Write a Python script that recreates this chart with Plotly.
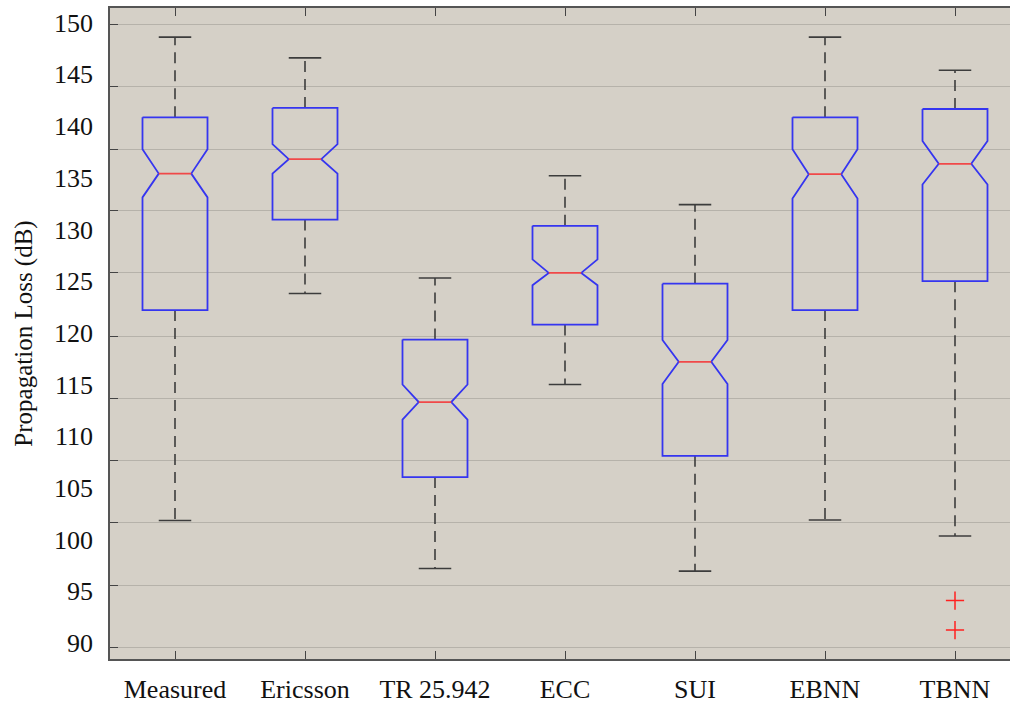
import plotly.graph_objects as go

categories = ["Measured", "Ericsson", "TR 25.942", "ECC", "SUI", "EBNN", "TBNN"]
upper_whisker = [148.6, 146.6, 125.3, 135.2, 132.4, 148.6, 145.4]
q3 = [140.85, 141.75, 119.35, 130.35, 124.75, 140.85, 141.65]
notch_hi = [137.75, 138.25, 115.0, 127.1, 119.3, 137.75, 138.55]
median = [135.4, 136.8, 113.3, 125.8, 117.2, 135.35, 136.35]
notch_lo = [133.1, 135.4, 111.6, 124.6, 115.05, 133.0, 134.35]
q1 = [122.2, 130.95, 106.05, 120.8, 108.1, 122.2, 125.0]
lower_whisker = [101.85, 123.8, 97.2, 115.0, 96.95, 101.9, 100.35]
outlier_cat = ["TBNN", "TBNN"]
outlier_val = [94.1, 91.25]

ytick_labels = [90, 95, 100, 105, 110, 115, 120, 125, 130, 135, 140, 145, 150]
grid_vals = [89.58, 95.54, 101.67, 107.67, 113.67, 119.67, 125.79, 131.79, 137.75, 143.85, 149.81]

BOX_HALF = 0.25
NOTCH_HALF = 0.125
CAP_HALF = 0.125

pos = {c: i + 1 for i, c in enumerate(categories)}

bx, by, mx, my, wx, wy, cx, cy = [], [], [], [], [], [], [], []
for i, c in enumerate(categories):
    x = pos[c]
    bx += [x - BOX_HALF, x + BOX_HALF, x + BOX_HALF, x + NOTCH_HALF, x + BOX_HALF, x + BOX_HALF,
           x - BOX_HALF, x - BOX_HALF, x - NOTCH_HALF, x - BOX_HALF, x - BOX_HALF, None]
    by += [q3[i], q3[i], notch_hi[i], median[i], notch_lo[i], q1[i],
           q1[i], notch_lo[i], median[i], notch_hi[i], q3[i], None]
    mx += [x - NOTCH_HALF, x + NOTCH_HALF, None]
    my += [median[i], median[i], None]
    wx += [x, x, None, x, x, None]
    wy += [q3[i], upper_whisker[i], None, q1[i], lower_whisker[i], None]
    cx += [x - CAP_HALF, x + CAP_HALF, None, x - CAP_HALF, x + CAP_HALF, None]
    cy += [upper_whisker[i], upper_whisker[i], None, lower_whisker[i], lower_whisker[i], None]

fig = go.Figure()
fig.add_trace(go.Scatter(x=wx, y=wy, mode="lines", yaxis="y2",
                         line=dict(color="#3c3c3c", width=1.6, dash="11px,7px"),
                         hoverinfo="skip", showlegend=False))
fig.add_trace(go.Scatter(x=cx, y=cy, mode="lines", yaxis="y2",
                         line=dict(color="#3c3c3c", width=1.6),
                         hoverinfo="skip", showlegend=False))
fig.add_trace(go.Scatter(x=bx, y=by, mode="lines", yaxis="y2",
                         line=dict(color="#3535f0", width=1.8),
                         hoverinfo="skip", showlegend=False))
fig.add_trace(go.Scatter(x=mx, y=my, mode="lines", yaxis="y2",
                         line=dict(color="#f04848", width=1.8),
                         hoverinfo="skip", showlegend=False))
fig.add_trace(go.Scatter(x=[pos[c] for c in outlier_cat], y=outlier_val, mode="markers", yaxis="y2",
                         marker=dict(symbol="cross-thin", size=13, line=dict(color="#ff2020", width=1.5)),
                         hoverinfo="skip", showlegend=False))

# invisible anchor so the label axis is rendered
fig.add_trace(go.Scatter(x=[None], y=[None], yaxis="y", showlegend=False, hoverinfo="skip"))

YR = [88.45, 151.42]
XR = [0.5, 0.5 + 900 / 130]

font = dict(family="Liberation Serif, Times New Roman, serif", color="#111111")

fig.update_layout(
    width=1010, height=704,
    margin=dict(l=110, r=0, t=8, b=45, autoexpand=False),
    paper_bgcolor="white",
    plot_bgcolor="#d5d0c7",
    font=dict(**font, size=25),
    xaxis=dict(
        range=XR, tickmode="array", tickvals=[pos[c] for c in categories], ticktext=categories,
        ticks="inside", ticklen=8, tickwidth=1.2, tickcolor="#444444",
        showline=True, linecolor="#555555", linewidth=1.8, mirror="ticks",
        showgrid=False, zeroline=False, tickfont=dict(**font, size=26),
        ticklabelstandoff=6, automargin=False,
    ),
    yaxis=dict(
        range=YR, tickmode="array", tickvals=ytick_labels, ticktext=[str(v) for v in ytick_labels],
        ticks="", showgrid=False, zeroline=False, showline=False,
        tickfont=dict(**font, size=26), ticklabelstandoff=16, automargin=False,
        title=dict(text="Propagation Loss (dB)", font=dict(**font, size=25), standoff=14),
    ),
    yaxis2=dict(
        range=YR, overlaying="y", side="left", tickmode="array", tickvals=grid_vals,
        showticklabels=False, ticks="inside", ticklen=8, tickwidth=1.2, tickcolor="#444444",
        showgrid=True, gridcolor="#b6b2aa", gridwidth=1.2, zeroline=False,
        showline=True, linecolor="#555555", linewidth=1.8, automargin=False,
    ),
)

fig.write_html("out.html")
